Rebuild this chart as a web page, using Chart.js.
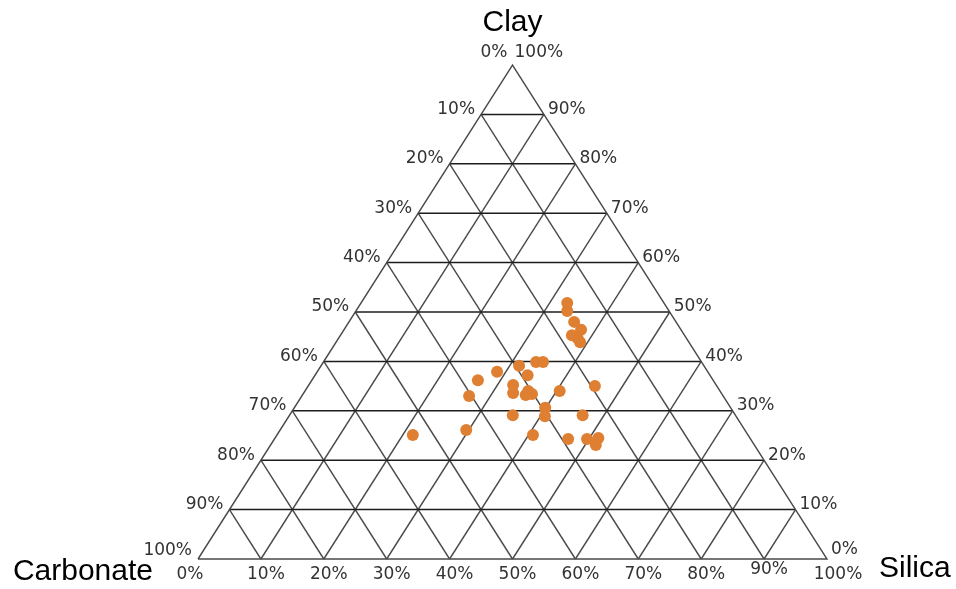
<!DOCTYPE html>
<html>
<head>
<meta charset="utf-8">
<title>Clay – Silica – Carbonate ternary diagram</title>
<script src="https://cdn.jsdelivr.net/npm/chart.js@4.4.1/dist/chart.umd.min.js"></script>
<style>
  html, body { margin: 0; padding: 0; background: #ffffff; }
  #wrap { width: 956px; height: 589px; position: relative; }
</style>
</head>
<body>
<div id="wrap"><canvas id="chart" width="956" height="589"></canvas></div>
<script>
// Sample compositions (percent of clay, silica and carbonate)
const clay      = [51.8, 50.2, 48.0, 46.4, 45.3, 44.7, 43.9, 39.9, 39.9, 39.1, 37.9, 37.2, 36.2, 35.2, 33.6, 34.0,
                   33.4, 33.2, 34.0, 35.0, 33.0, 30.6, 28.9, 29.1, 29.1, 26.1, 25.1, 25.1, 24.3, 24.3, 24.5, 23.1];
const silica    = [32.8, 33.6, 35.8, 37.7, 36.8, 38.0, 38.8, 33.8, 34.9, 31.5, 28.6, 33.8, 26.4, 32.5, 33.3, 35.5,
                   36.4, 35.5, 40.5, 45.6, 26.6, 39.9, 40.7, 35.5, 46.6, 29.6, 21.6, 40.7, 46.7, 49.7, 51.4, 51.7];
const carbonate = [15.4, 16.2, 16.2, 15.9, 17.9, 17.3, 17.3, 26.3, 25.2, 29.4, 33.5, 29.0, 37.4, 32.3, 33.1, 30.5,
                   30.2, 31.3, 25.5, 19.4, 40.4, 29.5, 30.4, 35.4, 24.3, 44.3, 53.3, 34.2, 29.0, 26.0, 24.1, 25.2];

// Grid / tick percentages
const gridSteps = [10, 20, 30, 40, 50, 60, 70, 80, 90];
const tickSteps = [0, 10, 20, 30, 40, 50, 60, 70, 80, 90, 100];

// Vertex names
const vertexTop = 'Clay';
const vertexLeft = 'Carbonate';
const vertexRight = 'Silica';

// Ternary -> cartesian: carbonate at bottom-left, silica at bottom-right, clay at top
function toXY(c, s) { return { x: s + c / 2, y: c }; }

const datasets = [];

// Horizontal lines of constant clay
gridSteps.forEach(c => {
  datasets.push({
    type: 'line', data: [toXY(c, 0), toXY(c, 100 - c)],
    borderColor: '#1c1c1c', borderWidth: 1.5, pointRadius: 0, clip: false, order: 3
  });
});
// Lines of constant silica (parallel to the left edge)
gridSteps.forEach(s => {
  datasets.push({
    type: 'line', data: [toXY(0, s), toXY(100 - s, s)],
    borderColor: '#4a4a4a', borderWidth: 1.4, pointRadius: 0, clip: false, order: 3
  });
});
// Lines of constant carbonate (parallel to the right edge)
gridSteps.forEach(k => {
  datasets.push({
    type: 'line', data: [toXY(0, 100 - k), toXY(100 - k, 0)],
    borderColor: '#4a4a4a', borderWidth: 1.4, pointRadius: 0, clip: false, order: 3
  });
});
// Triangle outline
datasets.push({
  type: 'line', data: [toXY(0, 0), toXY(0, 100), toXY(100, 0), toXY(0, 0)],
  borderColor: '#4a4a4a', borderWidth: 1.4, pointRadius: 0, clip: false, order: 2
});
// Samples
datasets.push({
  type: 'scatter',
  data: clay.map((c, i) => toXY(c, silica[i])),
  backgroundColor: '#DF7F32', borderWidth: 0, pointRadius: 6, pointHoverRadius: 6,
  clip: false, order: 1
});

// Percent labels along the three sides and the vertex names
const ternaryLabels = {
  id: 'ternaryLabels',
  afterDraw(chart) {
    const ctx = chart.ctx;
    const xs = chart.scales.x, ys = chart.scales.y;
    const px = p => ({ x: xs.getPixelForValue(p.x), y: ys.getPixelForValue(p.y) });
    ctx.save();
    ctx.fillStyle = '#333333';
    ctx.font = '17px "DejaVu Sans", Verdana, sans-serif';
    ctx.textBaseline = 'middle';

    tickSteps.forEach(t => {
      // Left side: carbonate percent (0% at top, 100% at the bottom-left corner)
      if (t > 0) {
        const p = px(toXY(100 - t, 0));
        ctx.textAlign = 'right';
        ctx.fillText(t + '%', p.x - 6, p.y - (t === 100 ? 8 : 5));
      }
      // Right side: clay percent (100% at top, 0% at the bottom-right corner)
      if (t < 100) {
        const p = px(toXY(t, 100 - t));
        ctx.textAlign = 'left';
        ctx.fillText(t + '%', p.x + 4, p.y - (t === 0 ? 9 : 5));
      }
      // Bottom: silica percent
      const b = px(toXY(0, t));
      ctx.textAlign = 'center';
      let dx = 5;
      if (t === 0) dx = -8;
      if (t === 100) dx = 11;
      ctx.fillText(t + '%', b.x + dx, b.y + (t === 90 ? 11 : 16));
    });

    // Apex labels
    const apex = px(toXY(100, 0));
    ctx.textAlign = 'right';
    ctx.fillText('0%', apex.x - 5, apex.y - 12);
    ctx.textAlign = 'left';
    ctx.fillText('100%', apex.x + 2, apex.y - 12);

    // Vertex names
    ctx.fillStyle = '#000000';
    ctx.font = '30px "Liberation Sans", Arial, sans-serif';
    ctx.textBaseline = 'alphabetic';
    ctx.textAlign = 'center';
    ctx.fillText(vertexTop, apex.x, 31);
    const bl = px(toXY(0, 0)), br = px(toXY(0, 100));
    ctx.textAlign = 'right';
    ctx.fillText(vertexLeft, bl.x - 45, 580);
    ctx.textAlign = 'left';
    ctx.fillText(vertexRight, br.x + 52, 577);
    ctx.restore();
  }
};

new Chart(document.getElementById('chart'), {
  type: 'scatter',
  data: { datasets },
  options: {
    responsive: false,
    animation: false,
    layout: { padding: { left: 198, right: 129, top: 65, bottom: 30 } },
    scales: {
      x: { type: 'linear', min: 0, max: 100, display: false },
      y: { type: 'linear', min: 0, max: 100, display: false }
    },
    plugins: { legend: { display: false }, tooltip: { enabled: false } }
  },
  plugins: [ternaryLabels]
});
</script>
</body>
</html>
